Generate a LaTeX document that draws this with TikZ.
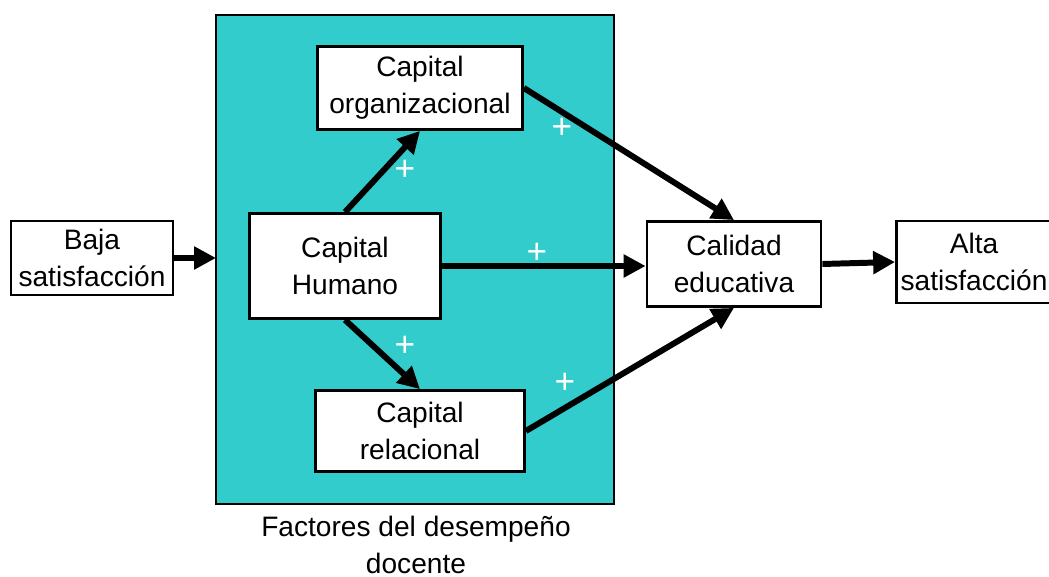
\documentclass[tikz,border=0pt]{standalone}
\usepackage{fontspec}
\setmainfont{Liberation Sans}
\usepackage[svgnames]{xcolor}
\usetikzlibrary{arrows.meta}
\definecolor{Teal}{HTML}{33CCCC}

\begin{document}
\begin{tikzpicture}[x=0.02cm, y=-0.02cm,
    box/.style={draw=black, line width=1.6pt, fill=white, align=center,
        font=\fontsize{16}{21}\selectfont, inner sep=0pt},
    flow/.style={line width=3.4pt, -{Triangle[length=12.5pt, width=12.5pt]}},
    plus/.style={text=white, font=\fontsize{20}{20}\selectfont, inner sep=0pt}]
    \useasboundingbox (0,0) rectangle (1049,577);
    \draw[fill=Teal, line width=1.2pt] (216,15) rectangle (614,504);
    \coordinate (frame) at (216,15);
    \node[align=center, font=\fontsize{16}{21}\selectfont] (fac) at (416,545) {Factores del desempeño\\docente};
    % boxes
    \node[box, minimum width=3.24cm, minimum height=1.48cm] (baja) at (92,258) {Baja\\satisfacción};
    \node[box, minimum width=4.1cm, minimum height=1.66cm] (org) at (420,88) {Capital\\organizacional};
    \node[box, minimum width=3.82cm, minimum height=2.1cm] (hum) at (345,266) {Capital\\Humano};
    \node[box, minimum width=3.48cm, minimum height=1.7cm] (cal) at (734,264) {Calidad\\educativa};
    \node[box, minimum width=4.18cm, minimum height=1.62cm] (rel) at (420,431) {Capital\\relacional};
    \node[box, minimum width=3.1cm, minimum height=1.64cm] (alta) at (974,262) {Alta\\satisfacción};
    % connectors
    \draw[flow] (baja.east) -- (baja.east -| frame);
    \draw[flow] (hum.north) -- (org.south);
    \draw[flow] (hum.south) -- (rel.north);
    \draw[flow] (hum.east) -- (hum.east -| cal.west);
    \draw[flow] (org.east) -- (cal.north);
    \draw[flow] (rel.east) -- (cal.south);
    \draw[flow] (cal.east) -- (alta.west);
    % signs
    \node[plus] (p1) at (405,170) {+};
    \node[plus] (p2) at (562,128) {+};
    \node[plus] (p3) at (537,253) {+};
    \node[plus] (p4) at (405,346) {+};
    \node[plus] (p5) at (565,383) {+};
\end{tikzpicture}
\end{document}
